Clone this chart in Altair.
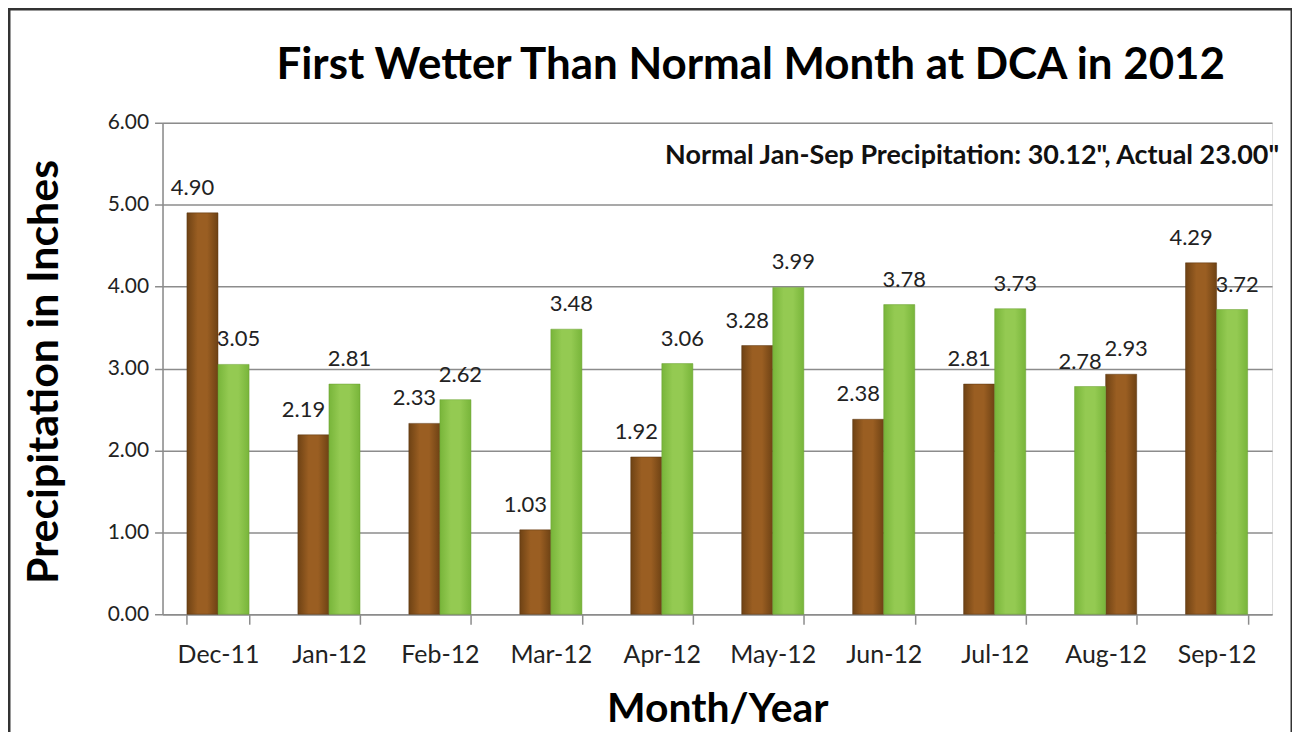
import altair as alt
import pandas as pd

months = ["Dec-11", "Jan-12", "Feb-12", "Mar-12", "Apr-12",
          "May-12", "Jun-12", "Jul-12", "Aug-12", "Sep-12"]
actual = [4.90, 2.19, 2.33, 1.03, 1.92, 3.28, 2.38, 2.81, 2.78, 4.29]
normal = [3.05, 2.81, 2.62, 3.48, 3.06, 3.99, 3.78, 3.73, 2.93, 3.72]
# months where the chart shows the actual bar in green and the normal bar in brown
swapped = ["Aug-12"]

title_text = "First Wetter Than Normal Month at DCA in 2012"
note_text = "Normal Jan-Sep Precipitation: 30.12\", Actual 23.00\""

rows = []
for m, a, n in zip(months, actual, normal):
    sw = m in swapped
    rows.append({"month": m, "series": "Actual", "value": a,
                 "shade": "green" if sw else "brown"})
    rows.append({"month": m, "series": "Normal", "value": n,
                 "shade": "brown" if sw else "green"})
df = pd.DataFrame(rows)

FONT = "Lato"
W, H = 1113, 493

brown_grad = alt.Gradient(
    gradient="linear", x1=0, x2=1, y1=0, y2=0,
    stops=[alt.GradientStop(color="#6e4214", offset=0),
           alt.GradientStop(color="#9a5e22", offset=0.35),
           alt.GradientStop(color="#9a5e22", offset=0.65),
           alt.GradientStop(color="#6e4214", offset=1)])
green_grad = alt.Gradient(
    gradient="linear", x1=0, x2=1, y1=0, y2=0,
    stops=[alt.GradientStop(color="#78b53a", offset=0),
           alt.GradientStop(color="#94ca52", offset=0.35),
           alt.GradientStop(color="#94ca52", offset=0.65),
           alt.GradientStop(color="#78b53a", offset=1)])

x_enc = alt.X("month:N", sort=months,
              scale=alt.Scale(paddingInner=0.44, paddingOuter=0.22),
              axis=alt.Axis(title="Month/Year", labelFontSize=25, labelFont=FONT,
                            labelColor="#222", labelPadding=18, labelAngle=0,
                            tickBand="extent", tickSize=10, tickColor="#8c8c8c",
                            tickWidth=1.5, domainColor="#8c8c8c", domainWidth=1.5,
                            titleFont=FONT, titleFontSize=41, titleFontWeight="bold",
                            titleColor="#000", titleY=108, titleBaseline="alphabetic"))
y_enc = alt.Y("value:Q", scale=alt.Scale(domain=[0, 6]),
              axis=alt.Axis(title="Precipitation in Inches", values=[0, 1, 2, 3, 4, 5, 6],
                            format=".2f", labelFontSize=21, labelFont=FONT,
                            labelColor="#222", labelPadding=6, tickSize=8,
                            tickColor="#8c8c8c", tickWidth=1.5,
                            domainColor="#8c8c8c", domainWidth=1.5,
                            gridColor="#8c8c8c", gridWidth=1.5,
                            titleFont=FONT, titleFontSize=43, titleFontWeight="bold",
                            titleColor="#000", titleX=-96, titleY=H / 2 + 3))
xo = alt.XOffset("series:N", sort=["Actual", "Normal"])

base = alt.Chart(df)

bars_brown = base.transform_filter(alt.datum.shade == "brown").mark_bar(
    fill=brown_grad, stroke="#5a3510", strokeWidth=0.5).encode(x=x_enc, xOffset=xo, y=y_enc)
bars_green = base.transform_filter(alt.datum.shade == "green").mark_bar(
    fill=green_grad, stroke="#6aa030", strokeWidth=0.5).encode(x=x_enc, xOffset=xo, y=y_enc)

def value_labels(series, dx):
    return base.transform_filter(alt.datum.series == series).mark_text(
        font=FONT, fontSize=22, color="#222", baseline="alphabetic", dx=dx, dy=-18
    ).encode(x=x_enc, xOffset=xo, y=y_enc, text=alt.Text("value:Q", format=".2f"))

labels_a = value_labels("Actual", -10)
labels_n = value_labels("Normal", 5)

text_df = pd.DataFrame({"title": [title_text], "note": [note_text]})
title = alt.Chart(text_df).mark_text(font=FONT, fontSize=44, fontWeight="bold",
                                     color="#000", align="center",
                                     baseline="alphabetic").encode(
    x=alt.value(590), y=alt.value(-44), text="title:N")
note = alt.Chart(text_df).mark_text(font=FONT, fontSize=27, fontWeight="bold",
                                    color="#111", align="right", baseline="middle").encode(
    x=alt.value(W + 7), y=alt.value(33), text="note:N")

frame = alt.Chart(text_df).mark_rect(fill=None, stroke="#333", strokeWidth=3).encode(
    x=alt.value(-154), x2=alt.value(W + 20), y=alt.value(-114), y2=alt.value(H + 200))

chart = alt.layer(bars_brown, bars_green, labels_a, labels_n, title, note, frame).properties(
    width=W, height=H,
    autosize=alt.AutoSizeParams(type="none"),
    padding={"left": 155, "top": 114, "right": 20, "bottom": 117},
).configure_view(stroke=None).configure(background="white")

chart.save("out.html", embed_options={"renderer": "svg", "actions": False})
